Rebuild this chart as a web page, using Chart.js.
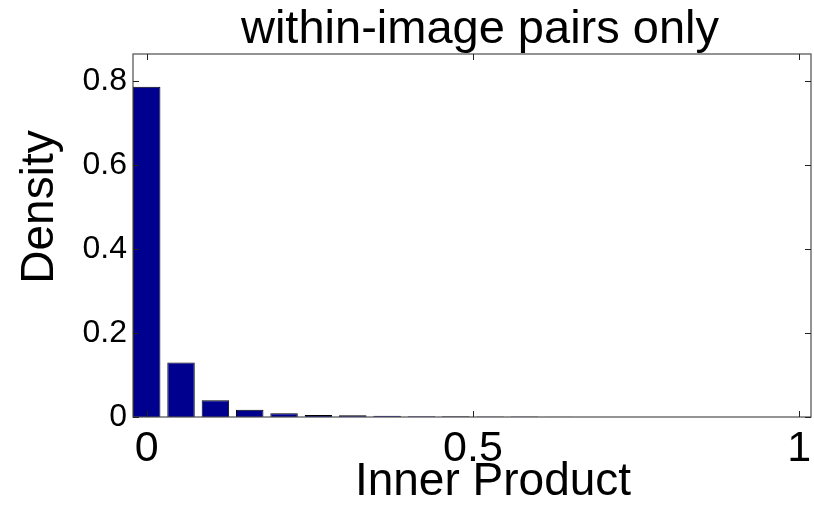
<!DOCTYPE html>
<html>

<head>
    <title>within-image pairs only</title>
    <script src="https://cdn.jsdelivr.net/npm/chart.js"></script>
    <style>
        html, body { margin: 0; padding: 0; background: #fff; }
        #wrap { width: 814px; height: 509px; }
    </style>
</head>

<body>

    <div id="wrap"><canvas id="myChart" width="814" height="509"></canvas></div>

    <script>
        // bin centres (20 bins from 0 to 1) and the density
        var binCenters = [0, 0.0526, 0.1053, 0.1579, 0.2105, 0.2632, 0.3158, 0.3684, 0.4211, 0.4737,
                          0.5263, 0.5789, 0.6316, 0.6842, 0.7368, 0.7895, 0.8421, 0.8947, 0.9474, 1];
        var density = [0.786, 0.130, 0.040, 0.017, 0.009, 0.005, 0.004, 0.003, 0.002, 0.0015,
                       0.001, 0.001, 0.0008, 0, 0, 0, 0, 0, 0, 0];
        var xTicks = [0, 0.5, 1];
        var yTicks = [0, 0.2, 0.4, 0.6, 0.8];

        var titleText = 'within-image pairs only';
        var xLabel = 'Inner Product';
        var yLabel = 'Density';
        var fontFamily = "'Liberation Sans', Arial, Helvetica, sans-serif";

        var points = binCenters.map(function (x, i) { return { x: x, y: density[i] }; });

        // frame, inward ticks on all four sides, title and axis labels
        var matlabAxes = {
            id: 'matlabAxes',
            afterDraw(chart) {
                var c = chart.ctx;
                var a = chart.chartArea;
                var xs = chart.scales.x, ys = chart.scales.y;
                c.save();
                c.strokeStyle = '#4d4d4d';
                c.lineWidth = 1.2;
                c.strokeRect(a.left, a.top, a.right - a.left, a.bottom - a.top);

                var tl = 6;
                c.beginPath();
                xTicks.forEach(function (v) {
                    var px = Math.round(xs.getPixelForValue(v)) + 0.5;
                    c.moveTo(px, a.bottom); c.lineTo(px, a.bottom - tl);
                    c.moveTo(px, a.top); c.lineTo(px, a.top + tl);
                });
                yTicks.forEach(function (v) {
                    var py = Math.round(ys.getPixelForValue(v)) + 0.5;
                    c.moveTo(a.left, py); c.lineTo(a.left + tl, py);
                    c.moveTo(a.right, py); c.lineTo(a.right - tl, py);
                });
                c.strokeStyle = '#222';
                c.lineWidth = 1;
                c.stroke();

                c.fillStyle = '#000';
                c.textAlign = 'center';
                c.textBaseline = 'alphabetic';
                c.font = '47px ' + fontFamily;
                c.fillText(titleText, 480, 43);
                c.font = '46px ' + fontFamily;
                c.fillText(xLabel, 493, 495);

                c.translate(53, 207);
                c.rotate(-Math.PI / 2);
                c.fillText(yLabel, 0, 0);
                c.restore();
            }
        };

        var ctx = document.getElementById('myChart').getContext('2d');
        var myChart = new Chart(ctx, {
            type: 'bar',
            data: {
                datasets: [{
                    label: 'Density',
                    data: points,
                    backgroundColor: 'rgb(0, 0, 143)',
                    borderColor: '#000',
                    borderWidth: 1,
                    barPercentage: 0.8,
                    categoryPercentage: 1.0
                }]
            },
            options: {
                responsive: false,
                animation: false,
                layout: { padding: { left: 0, right: 3, top: 54, bottom: 0 } },
                plugins: {
                    legend: { display: false },
                    tooltip: { enabled: false }
                },
                scales: {
                    x: {
                        type: 'linear',
                        offset: false,
                        min: -0.021,
                        max: 1.018,
                        grid: { display: false, drawTicks: false },
                        border: { display: false },
                        ticks: {
                            stepSize: 0.5,
                            includeBounds: false,
                            padding: 6,
                            color: '#000',
                            font: { family: fontFamily, size: 43 },
                            maxRotation: 0,
                            callback: function (v) { return String(+v.toFixed(2)); }
                        },
                        afterFit: function (s) { s.height = 92; s.paddingLeft = 0; s.paddingRight = 0; }
                    },
                    y: {
                        min: 0,
                        max: 0.864,
                        grid: { display: false, drawTicks: false },
                        border: { display: false },
                        ticks: {
                            stepSize: 0.2,
                            includeBounds: false,
                            padding: 6,
                            color: '#000',
                            font: { family: fontFamily, size: 32 },
                            callback: function (v) { return String(+v.toFixed(2)); }
                        },
                        afterFit: function (s) { s.width = 133; s.paddingTop = 0; s.paddingBottom = 0; }
                    }
                }
            },
            plugins: [matlabAxes]
        });
    </script>

</body>

</html>
